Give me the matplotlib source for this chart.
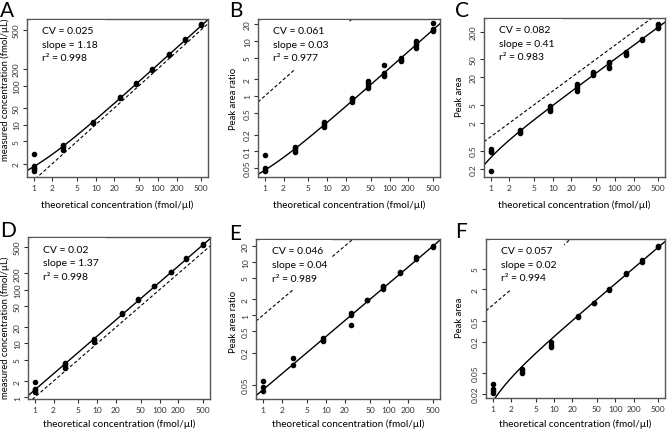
import numpy as np
import matplotlib
matplotlib.use("Agg")
import matplotlib.pyplot as plt
from matplotlib.patches import Rectangle
from matplotlib.ticker import NullLocator

plt.rcParams['font.family'] = ['Lato', 'DejaVu Sans']

# theoretical concentrations and replicate measurements per panel
conc = [1, 3, 9, 25, 45, 80, 150, 270, 500]

a_vals = [[1.47, 1.6, 1.7, 1.8, 3.0], [3.5, 3.8, 4.1, 4.3], [10.8, 11.3], [30, 31],
          [54, 56], [97, 100], [180, 184], [330, 340], [620, 630]]
b_vals = [[0.043, 0.046, 0.049, 0.087], [0.098, 0.105, 0.112, 0.118], [0.28, 0.30, 0.32, 0.34],
          [0.78, 0.84, 0.90, 0.94], [1.4, 1.55, 1.7, 1.85], [2.3, 2.45, 2.6, 3.7],
          [4.3, 4.6, 4.9], [7.6, 8.3, 9.0, 9.8], [15.2, 16.0, 16.8, 21.5]]
c_vals = [[0.18, 0.46, 0.50, 0.54], [1.2, 1.3, 1.38], [3.6, 3.9, 4.3, 4.7], [10, 11.5, 13, 14],
          [22, 24, 26], [32, 34, 42, 44], [60, 66, 72], [132, 140], [235, 255, 280, 300]]
d_vals = [[1.25, 1.35, 1.45, 1.95], [3.5, 3.8, 4.1, 4.4], [10.5, 11.5, 12.3], [35, 37],
          [63, 66], [115, 118], [210, 214], [370, 380], [685, 695]]
e_vals = [[0.038, 0.045, 0.06], [0.119, 0.157], [0.33, 0.35, 0.38], [0.646, 1.02, 1.1],
          [1.92, 1.98], [3.1, 3.35, 3.6], [6.1, 6.6], [11.2, 12.2], [19.0, 20.3]]
f_vals = [[0.0205, 0.022, 0.0244, 0.031], [0.05, 0.055, 0.06], [0.155, 0.175, 0.2], [0.58, 0.61],
          [1.08, 1.12], [1.97, 2.02], [3.95, 4.1], [6.8, 7.5], [13.0, 13.8]]

# fitted line (slope, intercept) as drawn
fits = [(1.18, 0.58), (0.032, 0.013), (0.5, -0.15), (1.37, 0.0), (0.04, 0.0), (0.026, -0.0122)]
stats = [("0.025", "1.18", "0.998"), ("0.061", "0.03", "0.977"), ("0.082", "0.41", "0.983"),
         ("0.02", "1.37", "0.998"), ("0.046", "0.04", "0.989"), ("0.057", "0.02", "0.994")]
letters = ["A", "B", "C", "D", "E", "F"]
ylabels = ["measured concentration (fmol/µL)", "Peak area ratio", "Peak area",
           "measured concentration (fmol/µL)", "Peak area ratio", "Peak area"]
xlabel = "theoretical concentration (fmol/µl)"

xticks = [1, 2, 5, 10, 20, 50, 100, 200, 500]
yticks = [[2, 5, 10, 20, 50, 100, 500],
          [0.05, 0.1, 0.2, 0.5, 1, 2, 5, 10, 20],
          [0.2, 0.5, 2, 5, 20, 50, 200],
          [1, 2, 5, 10, 20, 50, 100, 200, 620],
          [0.05, 0.2, 0.5, 1, 2, 5, 10, 20],
          [0.02, 0.05, 0.2, 0.5, 2, 5]]
ytick_labels = [['2', '5', '10', '50', '100', '200', '500'],
                ['0.05', '0.1', '0.2', '0.5', '1', '2', '5', '10', '20'],
                ['0.2', '0.5', '2', '5', '20', '50', '200'],
                ['1', '2', '5', '10', '20', '50', '100', '200', '500'],
                ['0.05', '0.2', '0.5', '1', '2', '5', '10', '20'],
                ['0.02', '0.05', '0.2', '0.5', '2', '5']]
ylims = [(1.15, 780), (0.034, 25), (0.132, 396), (0.93, 950), (0.027, 27), (0.0164, 18.7)]
xlim = (10 ** -0.108, 10 ** 2.808)

W, H = 669, 431
# axes boxes in pixels: left, top, right, bottom
boxes = [(27, 20, 208, 178), (258, 20, 440, 178), (484, 19, 665, 178),
         (28, 238, 210, 400), (256, 240, 440, 400), (486, 240, 665, 399)]
letter_pos = [(0, 1), (229, 1), (455, 1), (0, 221), (229, 224), (455, 222)]
ylabel_pos = [(5, 90), (234, 99), (460, 97), (5, 328), (234, 322), (460, 318)]
xlabel_y = [205, 205, 205, 424, 424, 424]
legend_right = [0.43, 0.50, 0.43, 0.43, 0.415, 0.434]

fig = plt.figure(figsize=(W / 100, H / 100), dpi=100)
all_vals = [a_vals, b_vals, c_vals, d_vals, e_vals, f_vals]

for i in range(6):
    l, t, r, b = boxes[i]
    ax = fig.add_axes([l / W, 1 - b / H, (r - l) / W, (b - t) / H])
    ax.set_xscale('log')
    ax.set_yscale('log')
    ax.set_xlim(*xlim)
    ax.set_ylim(*ylims[i])

    xs, ys = [], []
    for c, vals in zip(conc, all_vals[i]):
        xs += [c] * len(vals)
        ys += vals
    ax.plot(xs, ys, 'o', color='black', ms=3, zorder=3, clip_on=False)

    xx = np.logspace(np.log10(xlim[0]), np.log10(xlim[1]), 300)
    slope, icpt = fits[i]
    yy = slope * xx + icpt
    yy = np.where(yy > 0, yy, np.nan)
    ax.plot(xx, yy, color='black', lw=1.0, zorder=2)
    ax.plot(xx, xx, color='black', lw=0.8, ls=(0, (3, 2)), zorder=2)

    ax.add_patch(Rectangle((0.02, 0.68), legend_right[i] - 0.02, 0.315,
                           transform=ax.transAxes, facecolor='white', edgecolor='none', zorder=4))
    cv, sl, r2 = stats[i]
    ax.text(0.085, 0.925, "CV = " + cv, transform=ax.transAxes, fontsize=7.5, va='center', zorder=5)
    ax.text(0.085, 0.84, "slope = " + sl, transform=ax.transAxes, fontsize=7.5, va='center', zorder=5)
    ax.text(0.085, 0.755, "r² = " + r2, transform=ax.transAxes, fontsize=7.5, va='center', zorder=5)

    ax.set_xticks(xticks)
    ax.set_xticklabels([str(v) for v in xticks])
    ax.set_yticks(yticks[i])
    ax.set_yticklabels(ytick_labels[i], rotation=90, va='center')
    ax.xaxis.set_minor_locator(NullLocator())
    ax.yaxis.set_minor_locator(NullLocator())
    ax.tick_params(length=3, width=0.8, pad=2, labelsize=6, colors='#333333')
    for s in ax.spines.values():
        s.set_color('#555555')
        s.set_linewidth(1.0)

    fig.text(((l + r) / 2) / W, 1 - xlabel_y[i] / H, xlabel, fontsize=7.2,
             ha='center', va='center')
    fig.text(ylabel_pos[i][0] / W, 1 - ylabel_pos[i][1] / H, ylabels[i], rotation=90,
             fontsize=6.8, ha='center', va='center')
    fig.text(letter_pos[i][0] / W, 1 - letter_pos[i][1] / H, letters[i],
             fontsize=15, ha='left', va='top')

fig.savefig("out.png", dpi=100)
